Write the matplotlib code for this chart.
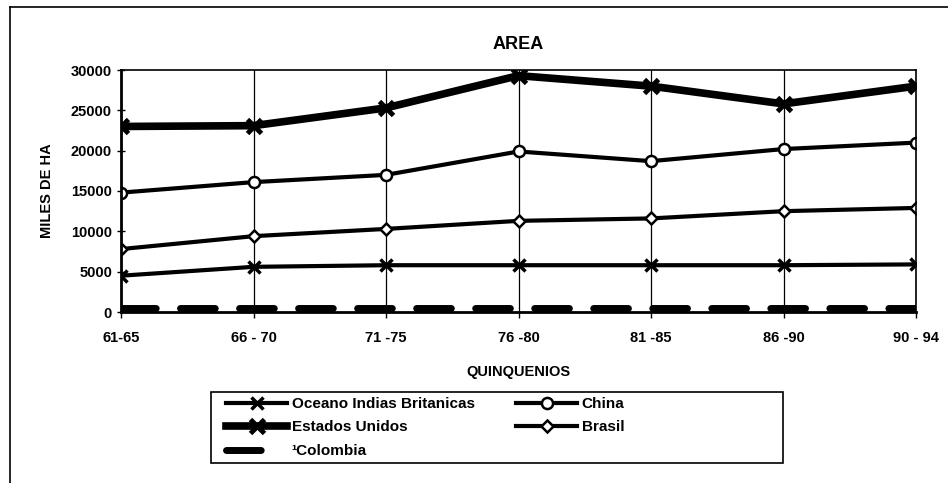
import matplotlib.pyplot as plt
from matplotlib.lines import Line2D
from matplotlib.patches import Rectangle

plt.rcParams['font.family'] = ['Liberation Sans', 'DejaVu Sans']
plt.rcParams['font.weight'] = 'bold'

quinquenios = ['61-65', '66 - 70', '71 -75', '76 -80', '81 -85', '86 -90', '90 - 94']
oceano = [4500, 5600, 5800, 5800, 5800, 5800, 5900]
estados_unidos = [23000, 23100, 25300, 29300, 28000, 25800, 28000]
china = [14800, 16100, 17000, 19900, 18700, 20200, 21000]
brasil = [7800, 9400, 10300, 11300, 11600, 12500, 12900]
colombia = [500, 500, 500, 500, 500, 500, 500]

W, H = 948, 483
fig = plt.figure(figsize=(W / 100, H / 100), dpi=100)
ax = fig.add_axes([121 / W, 1 - 312 / H, (916 - 121) / W, (312 - 70) / H])

x = range(len(quinquenios))
l_oc, = ax.plot(x, oceano, color='black', lw=3, marker='x', ms=9, mew=2.5,
                label='Oceano Indias Britanicas')
l_us, = ax.plot(x, estados_unidos, color='black', lw=5.5, marker='x', ms=10, mew=3.5,
                label='Estados Unidos')
ax.plot(x, colombia, color='black', lw=5, ls=(0, (5, 3.5)), dash_capstyle='round')
l_ch, = ax.plot(x, china, color='black', lw=3, marker='o', ms=8, mfc='white', mew=1.8,
                label='China')
l_br, = ax.plot(x, brasil, color='black', lw=3, marker='D', ms=6, mfc='white', mew=1.8,
                label='Brasil')
# legend entry for Colombia: one short thick dash
l_co = Line2D([], [], color='black', lw=5, ls=(0, (5, 60)), dash_capstyle='round',
              label='\u00b9Colombia')

ax.set_xlim(0, len(quinquenios) - 1)
ax.set_ylim(0, 30000)
ax.set_yticks(range(0, 30001, 5000))
ax.set_xticks(list(x))
ax.set_xticklabels(quinquenios)
ax.grid(axis='x', color='black', lw=0.9)
ax.tick_params(axis='y', direction='inout', length=6, labelsize=10.5, width=1)
ax.tick_params(axis='x', direction='out', length=4, labelsize=10.5, pad=10, width=1)
for s in ax.spines.values():
    s.set_linewidth(1.2)
ax.spines['left'].set_linewidth(2)
ax.spines['bottom'].set_linewidth(2)

ax.set_title('AREA', fontsize=13, fontweight='bold', pad=15)
ax.set_ylabel('MILES DE HA', fontsize=10.5, fontweight='bold', labelpad=12)
ax.set_xlabel('QUINQUENIOS', fontsize=10.5, fontweight='bold', labelpad=14)

leg = fig.legend(handles=[l_oc, l_us, l_co, l_ch, l_br], ncol=2,
                 loc='upper left', bbox_to_anchor=(226 / W, 1 - 397 / H),
                 frameon=False, fontsize=11, borderaxespad=0, borderpad=0,
                 handlelength=4.0, columnspacing=2.7, labelspacing=0.62,
                 handletextpad=0.3)
fig.add_artist(Rectangle((211 / W, 1 - 463 / H), (783 - 211) / W, (463 - 392) / H,
                         transform=fig.transFigure, fill=False, ec='black', lw=1.2))

# outer chart border
fig.add_artist(Line2D([10 / W, 10 / W], [0, 1 - 7 / H], color='black', lw=1.2))
fig.add_artist(Line2D([10 / W, 1], [1 - 7 / H, 1 - 7 / H], color='black', lw=1.2))

fig.savefig('out.png', dpi=100)
